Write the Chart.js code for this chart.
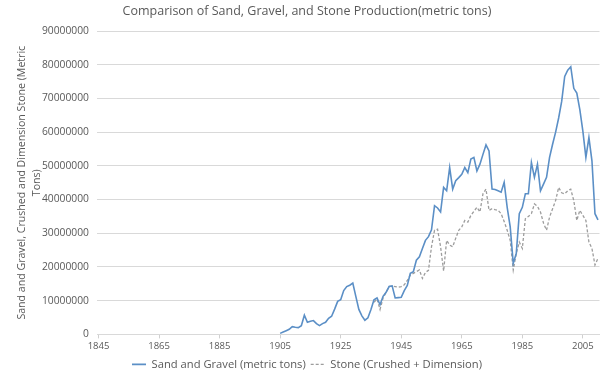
<!DOCTYPE html>
<html>
<head>
<meta charset="utf-8">
<script src="https://cdn.jsdelivr.net/npm/chart.js@4.4.1/dist/chart.umd.min.js"></script>
<style>
  html, body { margin: 0; padding: 0; background: #ffffff; }
  #wrap { width: 600px; height: 380px; }
</style>
</head>
<body>
<div id="wrap"><canvas id="c" width="600" height="380"></canvas></div>
<script>
// ---- Data ----
const firstYear = 1845;
const lastYear = 2010;
const years = [];
for (let y = firstYear; y <= lastYear; y++) years.push(String(y));

const tickLabelYears = ['1845', '1865', '1885', '1905', '1925', '1945', '1965', '1985', '2005'];

// Sand and Gravel (metric tons), 1905 - 2010
const sandStartYear = 1905;
const sandValues = [
  300000, 700000, 1100000, 1500000, 2300000, 2100000, 2000000, 2600000, 5700000, 3600000,
  3900000, 4100000, 3200000, 2600000, 3200000, 3600000, 4800000, 5400000, 7500000, 9800000,
  10300000, 13000000, 14200000, 14600000, 15200000, 11300000, 7400000, 5500000, 4200000, 4900000,
  7400000, 10300000, 10800000, 8800000, 11300000, 12500000, 14200000, 14400000, 10800000, 10900000,
  11000000, 13000000, 14500000, 18100000, 18600000, 22000000, 23000000, 25500000, 27900000, 29000000,
  31000000, 38200000, 37500000, 36300000, 43600000, 42600000, 49500000, 43100000, 45600000, 46500000,
  47500000, 49500000, 48000000, 52000000, 52500000, 48500000, 50500000, 53400000, 56200000, 54400000,
  43100000, 43000000, 42600000, 42200000, 45100000, 37700000, 31900000, 21100000, 24000000, 35800000,
  37700000, 41700000, 41700000, 51000000, 46600000, 50500000, 42600000, 44600000, 46600000, 52500000,
  56400000, 60000000, 64200000, 69100000, 76500000, 78400000, 79400000, 73000000, 71600000, 66700000,
  60300000, 52500000, 58400000, 51500000, 35800000, 34000000
];

// Stone (Crushed + Dimension), 1936 - 2010
const stoneStartYear = 1936;
const stoneValues = [
  9500000, 10500000, 7400000, 10800000, 12500000, 14200000, 14300000, 14200000, 14000000, 14200000,
  14700000, 16000000, 17600000, 18100000, 18600000, 19100000, 16600000, 18400000, 19000000, 26000000,
  30900000, 31200000, 26000000, 18800000, 27900000, 26500000, 26000000, 28500000, 30900000, 31900000,
  33800000, 33300000, 35300000, 36500000, 37700000, 36300000, 41700000, 43100000, 36800000, 37300000,
  37000000, 36800000, 35800000, 33500000, 30900000, 27900000, 19100000, 24000000, 27400000, 25500000,
  34300000, 35000000, 35800000, 38700000, 38000000, 36300000, 33000000, 30900000, 34800000, 37300000,
  39700000, 43600000, 42000000, 41700000, 42600000, 43100000, 39700000, 33800000, 36800000, 35300000,
  33800000, 27400000, 25500000, 20600000, 22600000
];

function toPoints(startYear, values) {
  return values.map((v, i) => ({ x: String(startYear + i), y: v }));
}

const FONT = "'Open Sans', 'Liberation Sans', sans-serif";
const TXT = '#595959';

new Chart(document.getElementById('c'), {
  type: 'line',
  data: {
    labels: years,
    datasets: [
      {
        label: 'Sand and Gravel (metric tons)',
        data: toPoints(sandStartYear, sandValues),
        borderColor: '#5b8fc6',
        backgroundColor: '#5b8fc6',
        borderWidth: 1.6,
        pointRadius: 0,
        tension: 0,
        fill: false
      },
      {
        label: 'Stone (Crushed + Dimension)',
        data: toPoints(stoneStartYear, stoneValues),
        borderColor: '#9d9d9d',
        backgroundColor: '#9d9d9d',
        borderWidth: 1.3,
        borderDash: [3, 2],
        pointRadius: 0,
        tension: 0,
        fill: false
      }
    ]
  },
  options: {
    responsive: false,
    animation: false,
    devicePixelRatio: 1,
    layout: { padding: { left: 14, right: 0, top: 2, bottom: 0 } },
    plugins: {
      title: {
        display: true,
        text: 'Comparison of Sand, Gravel, and Stone Production(metric tons)',
        color: TXT,
        font: { family: FONT, size: 12.5, weight: 'normal' },
        padding: { top: 2, bottom: 12 }
      },
      legend: {
        position: 'bottom',
        labels: {
          color: TXT,
          font: { family: FONT, size: 11.2 },
          boxWidth: 14,
          boxHeight: 0,
          padding: 5
        }
      },
      tooltip: { enabled: false }
    },
    scales: {
      x: {
        type: 'category',
        offset: true,
        grid: {
          display: true,
          drawOnChartArea: false,
          drawTicks: true,
          tickLength: 4,
          color: (ctx) => (ctx.tick && tickLabelYears.includes(ctx.tick.label) ? '#d0d0d0' : 'rgba(0,0,0,0)')
        },
        border: { display: true, color: '#d9d9d9' },
        ticks: {
          autoSkip: false,
          maxRotation: 0,
          minRotation: 0,
          color: TXT,
          font: { family: FONT, size: 9.5 },
          padding: 2,
          callback: function (value) {
            const lab = this.getLabelForValue(value);
            return tickLabelYears.includes(lab) ? lab : '';
          }
        }
      },
      y: {
        min: 0,
        max: 90000000,
        ticks: {
          stepSize: 10000000,
          color: TXT,
          font: { family: FONT, size: 10.3 },
          padding: 8,
          callback: (v) => String(v)
        },
        grid: { color: '#d9d9d9', drawTicks: false },
        border: { display: false },
        title: {
          display: true,
          text: ['Sand and Gravel, Crushed and Dimension Stone (Metric', 'Tons)'],
          color: TXT,
          font: { family: FONT, size: 10.6, lineHeight: 1.45 },
          padding: { top: 0, bottom: 0 }
        },
        afterFit: (s) => { s.width = 83; }
      }
    }
  }
});
</script>
</body>
</html>
